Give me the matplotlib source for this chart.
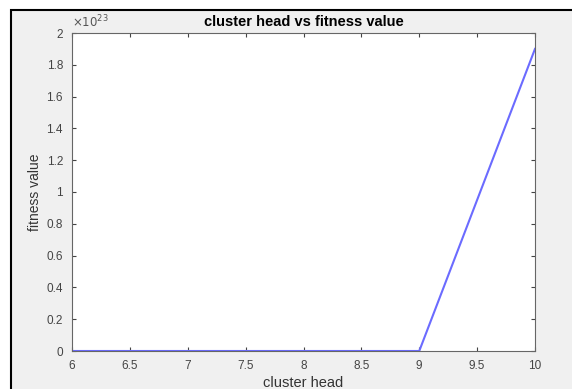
import numpy as np
import matplotlib.pyplot as plt
from matplotlib.patches import Rectangle
from matplotlib.ticker import FuncFormatter

plt.rcParams['font.family'] = ['Liberation Sans', 'DejaVu Sans']

cluster_head = [6, 7, 8, 9, 10]
fitness = [0, 0, 0, 0, 1.9e23]
scale = 1e23

fig = plt.figure(figsize=(5.72, 3.89), dpi=100, facecolor='white')
# gray window with black frame (screenshot look)
fig.patches.append(Rectangle((11 / 572, -0.05), 1.0, 1 - 10 / 389 + 0.05,
                             transform=fig.transFigure, facecolor='#f0f0f0',
                             edgecolor='black', linewidth=1.5, zorder=-1))

ax = fig.add_axes([72 / 572, 38 / 389, 463 / 572, 318 / 389])
ax.plot(cluster_head, fitness, color='#6b6bff', linewidth=1.5)

ax.set_xlim(6, 10)
ax.set_ylim(0, 2e23)
ax.set_xticks(np.arange(6, 10.01, 0.5))
ax.set_yticks(np.arange(0, 2.01, 0.2) * scale)
ax.xaxis.set_major_formatter(FuncFormatter(lambda v, p: '%g' % v))
ax.yaxis.set_major_formatter(FuncFormatter(lambda v, p: '%g' % round(v / scale, 2)))
ax.tick_params(direction='in', length=3, width=0.8, top=True, right=True,
               labelsize=8.5, colors='#444444', pad=6.5)
for s in ax.spines.values():
    s.set_color('#666666')
    s.set_linewidth(0.8)

ax.text(0.0, 1.01, r'$\times 10^{23}$', transform=ax.transAxes, fontsize=8.5,
        color='#555555', ha='left', va='bottom')
ax.set_title('cluster head vs fitness value', fontsize=10.5, fontweight='bold', pad=5)
ax.set_xlabel('cluster head', fontsize=10.5, color='#333333', labelpad=3)
ax.set_ylabel('fitness value', fontsize=10, color='#333333', labelpad=3)

fig.savefig('out.png', dpi=100, facecolor=fig.get_facecolor())
